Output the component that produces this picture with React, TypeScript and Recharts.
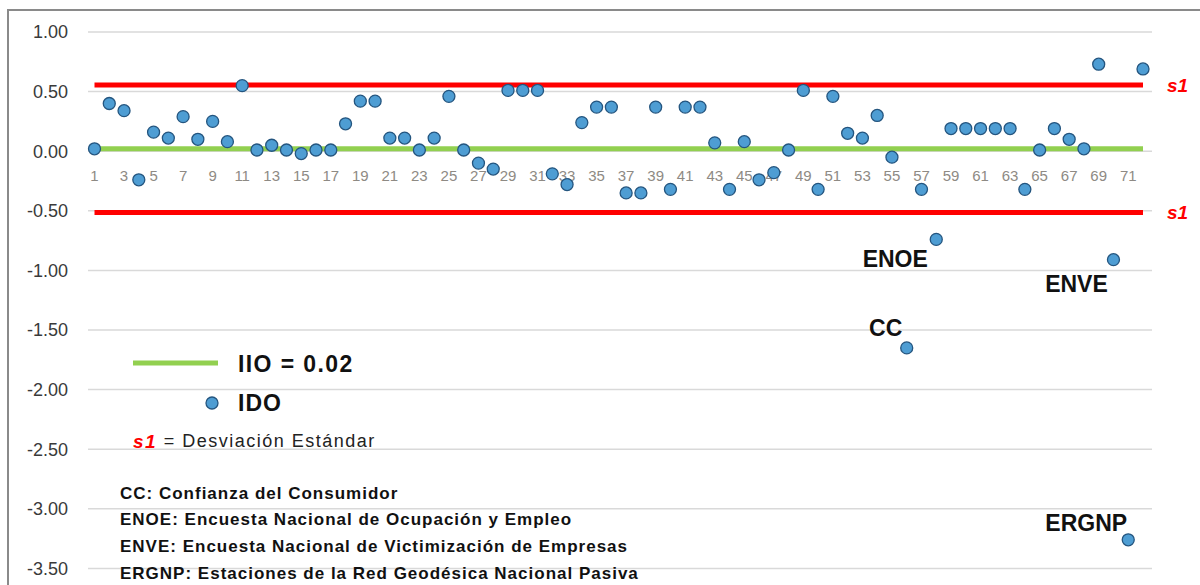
import React from 'react';
import { ComposedChart, Line, Scatter, XAxis, YAxis, CartesianGrid } from 'recharts';

const categories = [
  '1','2','3','4','5','6','7','8','9','10','11','12','13','14','15','16','17','18',
  '19','20','21','22','23','24','25','26','27','28','29','30','31','32','33','34','35','36',
  '37','38','39','40','41','42','43','44','45','46','47','48','49','50','51','52','53','54',
  '55','56','57','58','59','60','61','62','63','64','65','66','67','68','69','70','71','72',
];

const idoValues = [
  0.02, 0.40, 0.34, -0.24, 0.16, 0.11, 0.29, 0.10, 0.25, 0.08, 0.55, 0.01,
  0.05, 0.01, -0.02, 0.01, 0.01, 0.23, 0.42, 0.42, 0.11, 0.11, 0.01, 0.11,
  0.46, 0.01, -0.10, -0.15, 0.51, 0.51, 0.51, -0.19, -0.28, 0.24, 0.37, 0.37,
  -0.35, -0.35, 0.37, -0.32, 0.37, 0.37, 0.07, -0.32, 0.08, -0.24, -0.18, 0.01,
  0.51, -0.32, 0.46, 0.15, 0.11, 0.30, -0.05, -1.65, -0.32, -0.74, 0.19, 0.19,
  0.19, 0.19, 0.19, -0.32, 0.01, 0.19, 0.10, 0.02, 0.73, -0.91, -3.26, 0.69,
];

const iioValue = 0.02;
const s1Upper = 0.555;
const s1Lower = -0.515;

const yTicks = [1, 0.5, 0, -0.5, -1, -1.5, -2, -2.5, -3, -3.5];

const annotationNames: Record<string, string> = { '56': 'CC', '58': 'ENOE', '70': 'ENVE', '71': 'ERGNP' };
// label offsets relative to the point (styling)
const annotationOffsets: Record<string, [number, number]> = {
  CC: [-21, -20],
  ENOE: [-41, 20],
  ENVE: [-37, 24],
  ERGNP: [-42, -17],
};

const footnotes = [
  'CC: Confianza del Consumidor',
  'ENOE: Encuesta Nacional de Ocupación y Empleo',
  'ENVE: Encuesta Nacional de Victimización de Empresas',
  'ERGNP: Estaciones de la Red Geodésica Nacional Pasiva',
];

const data = categories.map((c, i) => ({
  cat: c,
  ido: idoValues[i],
  iio: iioValue,
  up: s1Upper,
  low: s1Lower,
  axis: 0,
  note: annotationNames[c] || '',
}));

const FONT = '"Liberation Sans", Arial, sans-serif';
const DOT_FILL = '#4E9DD3';
const DOT_STROKE = '#24557F';

const ScatterShape = (props: any) => {
  const { cx, cy, payload } = props;
  if (cx == null || cy == null) return <g />;
  const note = payload?.note;
  const off = note ? annotationOffsets[note] : null;
  return (
    <g>
      <circle cx={cx} cy={cy} r={6} fill={DOT_FILL} stroke={DOT_STROKE} strokeWidth={1.3} />
      {note && off ? (
        <text
          x={cx + off[0]}
          y={cy + off[1]}
          textAnchor="middle"
          dominantBaseline="central"
          fontFamily={FONT}
          fontWeight="bold"
          fontSize={23}
          fill="#111"
        >
          {note}
        </text>
      ) : null}
    </g>
  );
};

const axisLabelDot = (props: any) => {
  const { cx, cy, index, payload } = props;
  const key = `ax-${index}`;
  if (index % 2 !== 0 || cx == null) return <g key={key} />;
  return (
    <text
      key={key}
      x={cx}
      y={cy + 24}
      textAnchor="middle"
      dominantBaseline="central"
      fontFamily={FONT}
      fontSize={15}
      fill="#8E8A84"
    >
      {payload.cat}
    </text>
  );
};

const s1Dot = (props: any) => {
  const { cx, cy, index } = props;
  const key = `s1-${index}`;
  if (index !== data.length - 1 || cx == null) return <g key={key} />;
  return (
    <text
      key={key}
      x={cx + 24}
      y={cy}
      dominantBaseline="central"
      fontFamily={FONT}
      fontWeight="bold"
      fontStyle="italic"
      fontSize={19}
      fill="#FF0000"
    >
      s1
    </text>
  );
};

export default function App() {
  return (
    <div
      style={{
        position: 'absolute',
        left: 0,
        top: 0,
        width: 1200,
        height: 585,
        overflow: 'hidden',
        background: '#fff',
      }}
    >
      <div
        style={{
          position: 'absolute',
          left: 7,
          top: 9,
          width: 1400,
          height: 800,
          border: '2px solid #8a8a8a',
          boxSizing: 'border-box',
        }}
      />
      <div style={{ position: 'absolute', left: 0, top: 0 }}>
        <ComposedChart
          width={1200}
          height={640}
          data={data}
          margin={{ top: 32, right: 48, bottom: 12, left: 0 }}
        >
          <CartesianGrid vertical={false} stroke="#D9D9D9" strokeWidth={1.5} />
          <XAxis dataKey="cat" type="category" hide padding={{ left: 6.5, right: 9 }} />
          <YAxis
            type="number"
            domain={[-4, 1]}
            ticks={yTicks}
            width={88}
            tickLine={false}
            axisLine={false}
            tickMargin={14}
            tickFormatter={(v: number) => v.toFixed(2)}
            tick={{ fontSize: 18, fill: '#3a3a3a', fontFamily: FONT }}
          />
          <Line
            dataKey="axis"
            stroke="none"
            dot={axisLabelDot}
            activeDot={false}
            isAnimationActive={false}
            legendType="none"
          />
          <Line
            dataKey="up"
            stroke="#FF0000"
            strokeWidth={5}
            dot={s1Dot}
            activeDot={false}
            isAnimationActive={false}
          />
          <Line
            dataKey="low"
            stroke="#FF0000"
            strokeWidth={5}
            dot={s1Dot}
            activeDot={false}
            isAnimationActive={false}
          />
          <Line
            dataKey="iio"
            stroke="#92D050"
            strokeWidth={5}
            dot={false}
            activeDot={false}
            isAnimationActive={false}
          />
          <Scatter dataKey="ido" shape={ScatterShape} isAnimationActive={false} />
        </ComposedChart>
      </div>
      <svg
        width={1200}
        height={585}
        style={{ position: 'absolute', left: 0, top: 0, pointerEvents: 'none' }}
      >
        <line x1={133} y1={363} x2={218} y2={363} stroke="#92D050" strokeWidth={5} />
        <text x={238} y={364} dominantBaseline="central" fontFamily={FONT} fontWeight="bold" fontSize={23} letterSpacing={1.4} fill="#111">
          IIO = 0.02
        </text>
        <circle cx={212} cy={403} r={6} fill={DOT_FILL} stroke={DOT_STROKE} strokeWidth={1.3} />
        <text x={238} y={403} dominantBaseline="central" fontFamily={FONT} fontWeight="bold" fontSize={23} letterSpacing={1} fill="#111">
          IDO
        </text>
        <text x={133} y={441} dominantBaseline="central" fontFamily={FONT} fontSize={18} letterSpacing={1.5} fill="#222">
          <tspan fill="#FF0000" fontWeight="bold" fontStyle="italic" fontSize={19}>s1</tspan>
          <tspan> = Desviación Estándar</tspan>
        </text>
        {footnotes.map((t, i) => (
          <text
            key={t}
            x={120}
            y={493 + i * 26.7}
            dominantBaseline="central"
            fontFamily={FONT}
            fontWeight="bold"
            fontSize={17}
            letterSpacing={1}
            fill="#111"
          >
            {t}
          </text>
        ))}
      </svg>
    </div>
  );
}
